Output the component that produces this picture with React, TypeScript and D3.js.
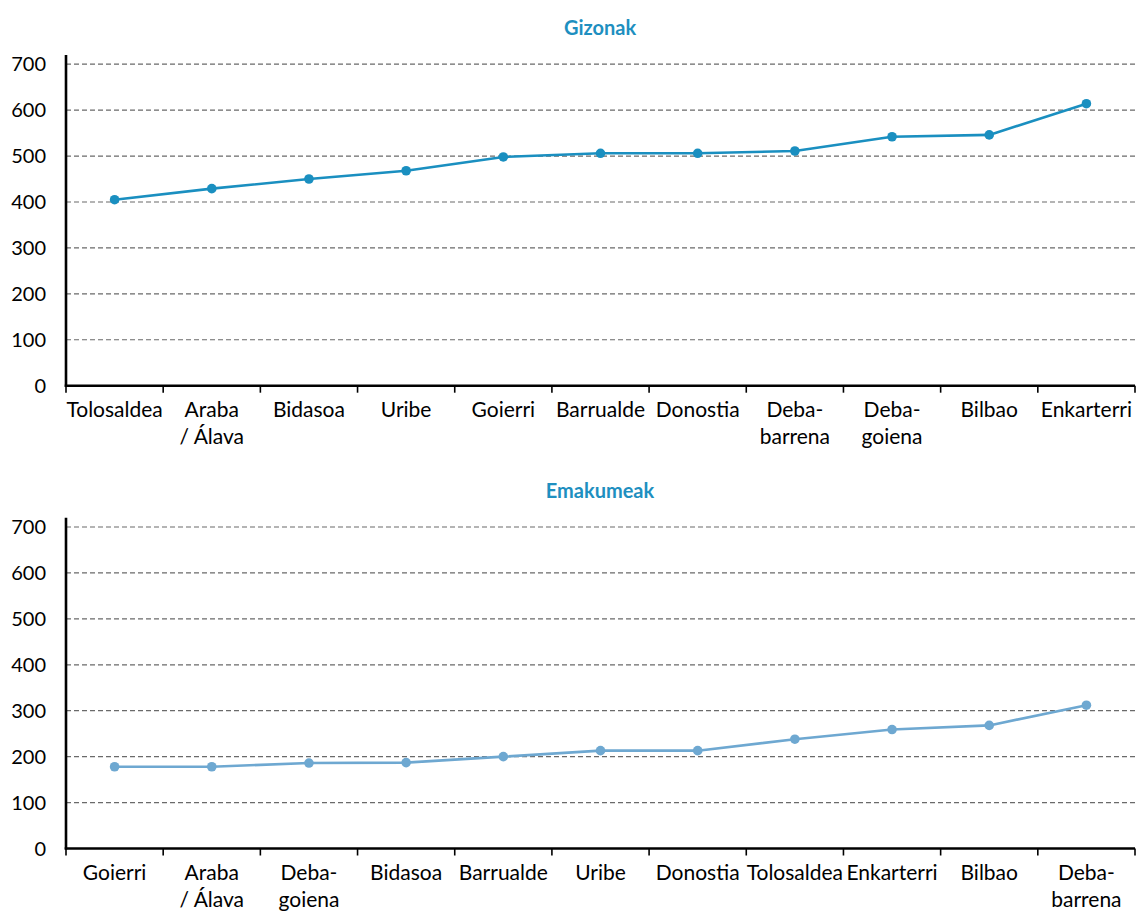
import React from "react";
import * as d3 from "d3";

// Men: regions ordered by value
const menRegions = [
  "Tolosaldea",
  "Araba / Álava",
  "Bidasoa",
  "Uribe",
  "Goierri",
  "Barrualde",
  "Donostia",
  "Deba-barrena",
  "Deba-goiena",
  "Bilbao",
  "Enkarterri",
];
const menValues = [405, 429, 450, 468, 498, 506, 506, 511, 542, 546, 614];

// Women: regions ordered by value
const womenRegions = [
  "Goierri",
  "Araba / Álava",
  "Deba-goiena",
  "Bidasoa",
  "Barrualde",
  "Uribe",
  "Donostia",
  "Tolosaldea",
  "Enkarterri",
  "Bilbao",
  "Deba-barrena",
];
const womenValues = [178, 178, 186, 187, 200, 213, 213, 238, 259, 268, 312];

const yTicks = [0, 100, 200, 300, 400, 500, 600, 700];

const FONT = "Lato, 'Noto Sans', sans-serif";
const TITLE_COLOR = "#1e8fc0";

// Split a region name into display lines
function labelLines(name: string): string[] {
  if (name.includes(" / ")) {
    const [a, b] = name.split(" / ");
    return [a, "/ " + b];
  }
  if (name.includes("-")) {
    const i = name.indexOf("-");
    return [name.slice(0, i + 1), name.slice(i + 1)];
  }
  return [name];
}

type PanelProps = {
  title: string;
  regions: string[];
  values: number[];
  color: string;
  top: number; // y offset of the panel
};

function Panel({ title, regions, values, color, top }: PanelProps) {
  const left = 66;
  const right = 1135;
  const plotTop = top + 55;
  const plotBottom = top + 385.7;

  const x = d3.scaleBand<string>().domain(regions).range([left, right]).paddingInner(0).paddingOuter(0);
  const y = d3.scaleLinear().domain([0, 720]).range([plotBottom, plotTop]);
  const cx = (r: string) => (x(r) as number) + x.bandwidth() / 2;

  const pts = regions.map((r, i) => [cx(r), y(values[i])] as [number, number]);
  const line = d3.line()(pts) as string;

  const boundaries = regions.map((r) => x(r) as number).concat([right]);

  return (
    <g>
      <text
        x={600}
        y={top + 35}
        textAnchor="middle"
        fontFamily={FONT}
        fontWeight="bold"
        fontSize={20}
        fill={TITLE_COLOR}
      >
        {title}
      </text>

      {/* horizontal dashed gridlines */}
      {yTicks
        .filter((t) => t > 0)
        .map((t) => (
          <line
            key={"g" + t}
            x1={left}
            x2={right}
            y1={y(t)}
            y2={y(t)}
            stroke="#6a6a6a"
            strokeWidth={1.2}
            strokeDasharray="5,3"
          />
        ))}

      {/* y tick labels */}
      {yTicks.map((t) => (
        <text
          key={"yt" + t}
          x={46}
          y={y(t)}
          dy="0.36em"
          textAnchor="end"
          fontFamily={FONT}
          fontSize={20}
          fill="#000"
        >
          {t}
        </text>
      ))}

      {/* x tick marks at category boundaries */}
      {boundaries.map((b, i) => (
        <line key={"xt" + i} x1={b} x2={b} y1={plotBottom} y2={plotBottom + 7} stroke="#000" strokeWidth={1.6} />
      ))}

      {/* axes */}
      <line x1={left} x2={left} y1={plotTop} y2={plotBottom + 1} stroke="#000" strokeWidth={2.6} />
      <line x1={left - 1.3} x2={right} y1={plotBottom} y2={plotBottom} stroke="#000" strokeWidth={2.6} />

      {/* x category labels */}
      {regions.map((r) => (
        <text key={"xl" + r} x={cx(r)} textAnchor="middle" fontFamily={FONT} fontSize={21} fill="#000">
          {labelLines(r).map((ln, i) => (
            <tspan key={i} x={cx(r)} y={plotBottom + 31 + i * 27}>
              {ln}
            </tspan>
          ))}
        </text>
      ))}

      {/* series */}
      <path d={line} fill="none" stroke={color} strokeWidth={2.6} strokeLinejoin="round" />
      {pts.map((p, i) => (
        <circle key={"p" + i} cx={p[0]} cy={p[1]} r={4.8} fill={color} />
      ))}
    </g>
  );
}

export default function App() {
  return (
    <svg
      width={1141}
      height={916}
      viewBox="0 0 1141 916"
      style={{ position: "absolute", left: 0, top: 0, background: "#fff" }}
    >
      <rect width={1141} height={916} fill="#fff" />
      <Panel title="Gizonak" regions={menRegions} values={menValues} color="#1a8fc0" top={0} />
      <Panel title="Emakumeak" regions={womenRegions} values={womenValues} color="#6ea8d1" top={462.8} />
    </svg>
  );
}
